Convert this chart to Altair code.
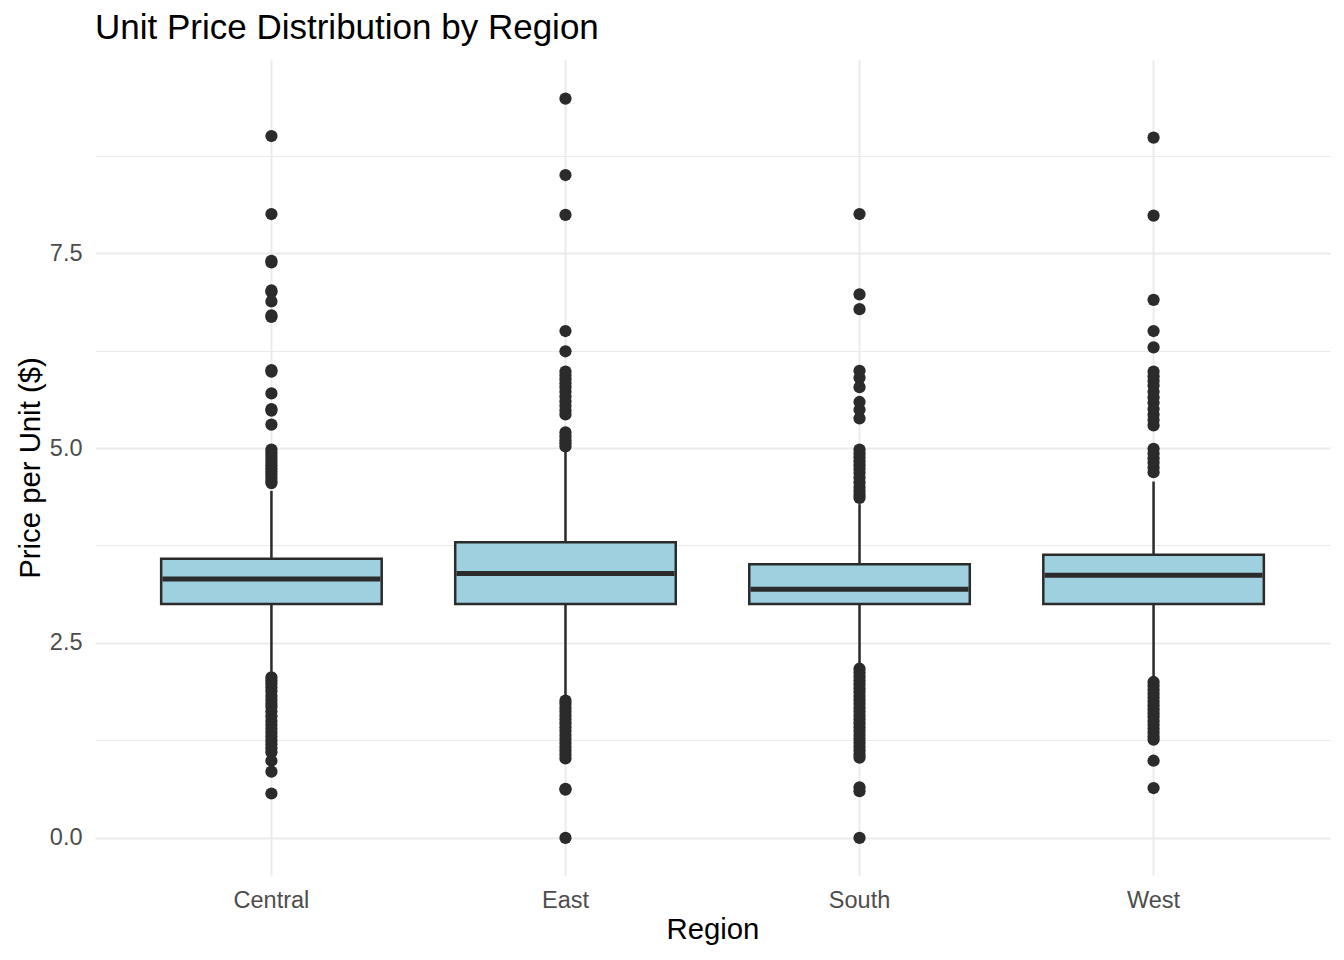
import altair as alt
import pandas as pd

# ---- data ----
regions = ["Central", "East", "South", "West"]
q1 = [3.0, 3.0, 3.0, 3.0]
medians = [3.32, 3.39, 3.19, 3.37]
q3 = [3.58, 3.79, 3.51, 3.63]
whisker_low = [2.13, 1.82, 2.24, 2.06]
whisker_high = [4.45, 4.96, 4.28, 4.57]

central_outliers = [9.0, 8.0, 7.4, 7.38, 7.02, 7.0, 6.88, 6.7, 6.68, 6.0, 5.98, 5.7,
                    5.5, 5.48, 5.3, 4.98, 4.94, 4.9, 4.86, 4.82, 4.78, 4.74, 4.7,
                    4.66, 4.62, 4.58, 4.55,
                    2.06, 2.02, 1.98, 1.93, 1.88, 1.82, 1.77, 1.72, 1.68, 1.62,
                    1.56, 1.5, 1.45, 1.4, 1.35, 1.3, 1.25, 1.2, 1.15, 1.1,
                    0.99, 0.85, 0.57]
east_outliers = [9.48, 8.5, 7.99, 6.5, 6.24, 5.98, 5.93, 5.88, 5.83, 5.78, 5.72,
                 5.66, 5.6, 5.54, 5.48, 5.43, 5.2, 5.15, 5.1, 5.06, 5.02,
                 1.76, 1.72, 1.67, 1.62, 1.57, 1.52, 1.47, 1.42, 1.37, 1.32,
                 1.27, 1.22, 1.17, 1.12, 1.07, 1.02, 0.63, 0.62, 0.0]
south_outliers = [8.0, 6.97, 6.78, 5.99, 5.9, 5.78, 5.59, 5.49, 5.38,
                  4.98, 4.93, 4.88, 4.83, 4.78, 4.73, 4.68, 4.62, 4.56, 4.5,
                  4.45, 4.4, 4.36,
                  2.17, 2.12, 2.07, 2.02, 1.97, 1.92, 1.87, 1.82, 1.77, 1.72,
                  1.67, 1.62, 1.57, 1.52, 1.47, 1.42, 1.37, 1.32, 1.27, 1.22,
                  1.17, 1.12, 1.07, 1.03, 0.65, 0.6, 0.0]
west_outliers = [8.98, 7.98, 6.9, 6.5, 6.29, 5.98, 5.92, 5.86, 5.8, 5.72, 5.65,
                 5.58, 5.5, 5.43, 5.36, 5.29, 4.99, 4.93, 4.87, 4.81, 4.75, 4.69,
                 2.0, 1.95, 1.9, 1.85, 1.8, 1.75, 1.7, 1.65, 1.6, 1.55, 1.5,
                 1.45, 1.4, 1.35, 1.3, 1.26, 0.99, 0.64]

y_ticks = [0, 1.25, 2.5, 3.75, 5, 6.25, 7.5, 8.75]
y_domain = [-0.475, 9.975]

# ---- tables ----
stats = pd.DataFrame({
    "Region": regions, "q1": q1, "median": medians, "q3": q3,
    "lo": whisker_low, "hi": whisker_high,
})
out_rows = []
for reg, vals in zip(regions, [central_outliers, east_outliers, south_outliers, west_outliers]):
    for v in vals:
        out_rows.append({"Region": reg, "price": v})
outliers = pd.DataFrame(out_rows)

dark = "#2b2b2b"
fill = "#9FD0E0"
font = "Liberation Sans"

x_enc = alt.X("Region:N", sort=regions,
              scale=alt.Scale(paddingInner=0, paddingOuter=0.1),
              axis=alt.Axis(title="Region", labelAngle=0, grid=True, gridWidth=2))
y_scale = alt.Scale(domain=y_domain, nice=False, zero=False)
y_axis = alt.Axis(
    title="Price per Unit ($)",
    values=y_ticks,
    labelExpr="datum.value % 2.5 === 0 ? format(datum.value, '.1f') : ''",
    gridWidth={"condition": {"test": "datum.value % 2.5 === 0", "value": 2.2}, "value": 1.1},
)

base = alt.Chart(stats)

whiskers = base.mark_rule(color=dark, strokeWidth=2.5).encode(
    x=x_enc,
    y=alt.Y("lo:Q", scale=y_scale, axis=y_axis),
    y2="hi:Q",
)

boxes = base.mark_bar(fill=fill, stroke=dark, strokeWidth=2.5,
                      width=alt.RelativeBandSize(0.75)).encode(
    x=x_enc,
    y=alt.Y("q1:Q", scale=y_scale, axis=y_axis),
    y2="q3:Q",
)

median_tick = base.mark_tick(color=dark, thickness=5, size=218, opacity=1).encode(
    x=x_enc,
    y=alt.Y("median:Q", scale=y_scale, axis=y_axis),
)

points = alt.Chart(outliers).mark_circle(color=dark, size=150, opacity=1).encode(
    x=x_enc,
    y=alt.Y("price:Q", scale=y_scale, axis=y_axis),
)

chart = alt.layer(whiskers, boxes, median_tick, points).properties(
    width=1235,
    height=815,
    title=alt.TitleParams("Unit Price Distribution by Region", anchor="start",
                          frame="group", fontSize=35, font=font, fontWeight="normal",
                          color="#000000", offset=14),
    autosize=alt.AutoSizeParams(type="none"),
    padding={"left": 87, "top": 52, "right": 6, "bottom": 77},
).configure_view(stroke=None).configure_axis(
    domain=False, ticks=False, gridColor="#EBEBEB",
    labelFont=font, labelFontSize=23.5, labelColor="#4D4D4D", labelPadding=13,
    titleFont=font, titleFontSize=29.3, titleColor="#000000", titleFontWeight="normal",
).configure_axisX(titlePadding=4).configure_axisY(titlePadding=4)

chart.save("out.html", embed_options={"renderer": "svg", "actions": False})
